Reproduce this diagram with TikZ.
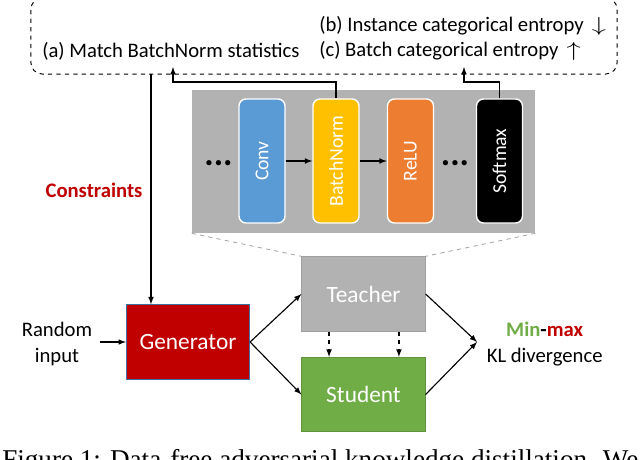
\documentclass[tikz,border=0pt]{standalone}
\usepackage{amsmath}
\usepackage{fontspec}
\setmainfont{Carlito}
\newfontfamily\capfont{Liberation Serif}
\usetikzlibrary{arrows}
\definecolor{gengray}{HTML}{B2B2B2}
\definecolor{genred}{HTML}{C00000}
\definecolor{gengreen}{HTML}{70AD47}
\definecolor{convblue}{HTML}{5B9BD5}
\definecolor{bnyellow}{HTML}{FFC000}
\definecolor{reluorange}{HTML}{ED7D31}
\definecolor{genedge}{HTML}{41719C}
\newcommand{\bigarrow}[1]{\,\scalebox{1.4}[1]{$#1$}}
\tikzset{
  layer/.style={draw=white,line width=1pt,rounded corners=5pt,text=white,minimum width=1.15cm,minimum height=3.1cm,inner sep=0pt,font=\fontsize{14}{16}\selectfont},
  net/.style={line width=0.7pt,text=white,minimum width=3.08cm,minimum height=1.86cm,inner sep=0pt,font=\fontsize{16.6}{18}\selectfont},
  txt/.style={inner sep=0pt,font=\fontsize{14.7}{18.5}\selectfont},
  conn/.style={->,>=latex,line width=0.8pt},
  zoomline/.style={dashed,gray!70,line width=0.6pt},
  ldots/.style={inner sep=0pt,anchor=base,font=\fontsize{25}{30}\bfseries\selectfont},
}

\begin{document}
\begin{tikzpicture}[x=0.025cm,y=-0.025cm]
\clip (0,0) rectangle (640,460);

\node[draw,dashed,line width=0.7pt,rounded corners=8pt,minimum width=14.65cm,minimum height=1.9cm,inner sep=0pt] (C) at (324,36) {};
\node[txt,anchor=west] (a) at (42,51) {(a) Match BatchNorm statistics};
\node[txt,anchor=west] (b) at (319,26) {(b) Instance categorical entropy \bigarrow{\downarrow}};
\node[txt,anchor=west] (c) at (319,51) {(c) Batch categorical entropy \bigarrow{\uparrow}};

\node[fill=gengray,minimum width=8.575cm,minimum height=3.575cm,inner sep=0pt] (P) at (363.5,161.5) {};
\node[layer,fill=convblue] (Conv) at (262,161) {\rotatebox{90}{Conv}};
\node[layer,fill=bnyellow] (BN) at (336,161) {\rotatebox{90}{BatchNorm}};
\node[layer,fill=reluorange] (ReLU) at (410.5,161) {\rotatebox{90}{ReLU}};
\node[layer,fill=black] (SM) at (499.5,161) {\rotatebox{90}{Softmax}};
\node[ldots] (d1) at (218.5,165) {...};
\node[ldots] (d2) at (455,165) {...};

\coordinate (ta) at (173,67);
\coordinate (tc) at (464,67);
\coordinate (tg) at (151,74);
\coordinate (ri) at (100,342);
\coordinate (kl) at (477,342);

\draw[conn] (Conv) -- (BN);
\draw[conn] (BN) -- (ReLU);
\draw[conn] (BN.north) |- (173,82) -- (ta);
\draw[conn] (SM.north) |- (464,82) -- (tc);

\node[net,fill=genred,draw=genedge] (G) at (188,342) {Generator};
\node[net,fill=gengray,draw=gengray!90!black] (T) at (363.5,294) {Teacher};
\node[net,fill=gengreen,draw=gengreen!85!black] (S) at (363.5,394.5) {Student};
\node[txt,align=center] (R) at (57,344) {Random\\input};
\node[txt,text=genred,font=\fontsize{14.7}{18.5}\bfseries\selectfont] (L) at (94,190) {Constraints};
\node[txt,align=center,anchor=west] (M) at (486.5,344) {{\bfseries\textcolor{gengreen}{Min}-\textcolor{genred}{max}}\\KL divergence};

\draw[zoomline] (P.south west) -- (T.north west);
\draw[zoomline] (P.south east) -- (T.north east);

\draw[conn] (tg) -- (tg |- G.north);
\draw[conn] (ri) -- (G.west);
\draw[conn] (G.east) -- (T.west);
\draw[conn] (G.east) -- (S.west);
\draw[conn] (T.east) -- (kl);
\draw[conn] (S.east) -- (kl);
\draw[conn,dashed] [transform canvas={xshift=-24.5pt}] (T) -- (S);
\draw[conn,dashed] [transform canvas={xshift=25.2pt}] (T) -- (S);

\node[anchor=base west,inner sep=0pt,font=\capfont\fontsize{19.3}{22}\selectfont] (F) at (2,468) {Figure 1: Data-free adversarial knowledge distillation. We};
\end{tikzpicture}
\end{document}
